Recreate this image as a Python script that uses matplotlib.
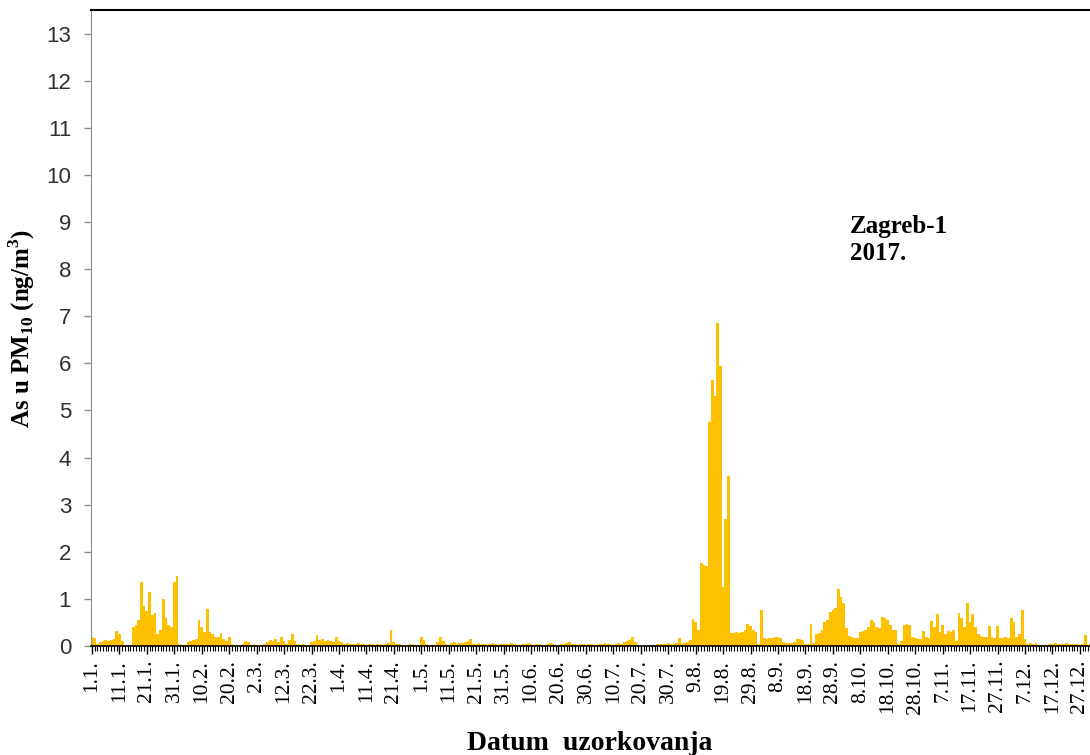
import matplotlib.pyplot as plt
import numpy as np

# dnevne vrijednosti As u PM10 (ng/m3), Zagreb-1, 2017. - po mjesecima
jan = [0.2, 0.18, 0.05, 0.08, 0.1, 0.12, 0.1, 0.12, 0.15, 0.32, 0.25, 0.1, 0.03, 0.02, 0.03,
       0.4, 0.45, 0.55, 1.35, 0.85, 0.75, 1.15, 0.65, 0.7, 0.25, 0.35, 1.0, 0.6, 0.45, 0.4, 1.35]
feb = [1.48, 0.05, 0.03, 0.02, 0.08, 0.1, 0.12, 0.15, 0.55, 0.4, 0.3, 0.78, 0.3, 0.25,
       0.2, 0.2, 0.28, 0.15, 0.1, 0.2, 0.05, 0.03, 0.02, 0.03, 0.05, 0.1, 0.08, 0.03]
mar = [0.05, 0.03, 0.02, 0.03, 0.05, 0.08, 0.12, 0.1, 0.15, 0.08, 0.2, 0.1, 0.05, 0.12, 0.25,
       0.1, 0.05, 0.03, 0.05, 0.02, 0.03, 0.08, 0.1, 0.23, 0.12, 0.15, 0.1, 0.12, 0.1, 0.08, 0.2]
apr = [0.1, 0.08, 0.05, 0.06, 0.05, 0.04, 0.05, 0.06, 0.05, 0.04, 0.03, 0.05, 0.04, 0.03, 0.05,
       0.04, 0.03, 0.05, 0.06, 0.34, 0.08, 0.05, 0.04, 0.03, 0.02, 0.03, 0.04, 0.05, 0.03, 0.02]
may = [0.2, 0.12, 0.05, 0.03, 0.02, 0.03, 0.08, 0.2, 0.1, 0.05, 0.03, 0.06, 0.08, 0.05, 0.07,
       0.06, 0.08, 0.1, 0.15, 0.05, 0.04, 0.06, 0.05, 0.04, 0.03, 0.05, 0.06, 0.04, 0.03, 0.04, 0.05]
jun = [0.05, 0.04, 0.06, 0.05, 0.03, 0.02, 0.04, 0.05, 0.06, 0.04, 0.03, 0.05, 0.04, 0.02, 0.03,
       0.05, 0.06, 0.04, 0.03, 0.02, 0.04, 0.05, 0.06, 0.08, 0.05, 0.04, 0.03, 0.05, 0.04, 0.03]
jul = [0.04, 0.05, 0.03, 0.02, 0.04, 0.05, 0.06, 0.05, 0.04, 0.03, 0.05, 0.06, 0.05, 0.08, 0.1,
       0.12, 0.2, 0.08, 0.03, 0.01, 0.0, 0.0, 0.01, 0.02, 0.03, 0.04, 0.05, 0.04, 0.05, 0.06, 0.05]
aug = [0.05, 0.06, 0.16, 0.05, 0.06, 0.08, 0.12, 0.57, 0.5, 0.35, 1.77, 1.72, 1.7, 4.75, 5.64,
       5.3, 6.85, 5.95, 1.25, 2.7, 3.6, 0.28, 0.27, 0.29, 0.28, 0.3, 0.35, 0.46, 0.42, 0.35, 0.3]
sep = [0.05, 0.76, 0.16, 0.15, 0.17, 0.16, 0.19, 0.2, 0.18, 0.08, 0.07, 0.06, 0.07, 0.08, 0.14,
       0.15, 0.13, 0.05, 0.04, 0.46, 0.07, 0.25, 0.27, 0.35, 0.5, 0.56, 0.72, 0.76, 0.8, 1.2]
oct_ = [1.03, 0.92, 0.39, 0.22, 0.2, 0.18, 0.17, 0.3, 0.32, 0.33, 0.4, 0.55, 0.52, 0.4, 0.38,
        0.62, 0.6, 0.55, 0.45, 0.35, 0.33, 0.05, 0.1, 0.45, 0.47, 0.45, 0.2, 0.18, 0.15, 0.14, 0.32]
nov = [0.2, 0.18, 0.53, 0.4, 0.67, 0.3, 0.45, 0.25, 0.32, 0.3, 0.33, 0.1, 0.69, 0.6, 0.4,
       0.92, 0.5, 0.67, 0.4, 0.25, 0.22, 0.2, 0.2, 0.43, 0.2, 0.18, 0.43, 0.18, 0.17, 0.19]
dec = [0.18, 0.59, 0.5, 0.2, 0.25, 0.76, 0.15, 0.05, 0.06, 0.05, 0.06, 0.02, 0.02, 0.01, 0.03,
       0.05, 0.04, 0.06, 0.05, 0.04, 0.05, 0.06, 0.04, 0.05, 0.04, 0.05, 0.03, 0.05, 0.24, 0.03, 0.04]

tick_labels = ['1.1.', '11.1.', '21.1.', '31.1.', '10.2.', '20.2.', '2.3.', '12.3.', '22.3.',
               '1.4.', '11.4.', '21.4.', '1.5.', '11.5.', '21.5.', '31.5.', '10.6.', '20.6.',
               '30.6.', '10.7.', '20.7.', '30.7.', '9.8.', '19.8.', '29.8.', '8.9.', '18.9.',
               '28.9.', '8.10.', '18.10.', '28.10.', '7.11.', '17.11.', '27.11.', '7.12.',
               '17.12.', '27.12.']

values = np.array(jan + feb + mar + apr + may + jun + jul + aug + sep + oct_ + nov + dec)
days = np.arange(1, len(values) + 1)

serif = 'Liberation Serif'
sans = 'Liberation Sans'

plt.rcParams['mathtext.fontset'] = 'custom'
plt.rcParams['mathtext.rm'] = serif
plt.rcParams['mathtext.bf'] = serif + ':bold'

fig = plt.figure(figsize=(10.9, 7.55), dpi=100)
ax = fig.add_axes([90.6 / 1090, 109 / 755, 1001.6 / 1090, 636 / 755])

ax.bar(days, values, width=1.0, color='#FFC000', linewidth=0)

ax.set_xlim(0.5, 365.5)
ax.set_ylim(0, 13.5)

# x os: oznaka svakih 10 dana, mala crtica za svaki dan
ax.set_xticks(days[::10])
ax.set_xticklabels(tick_labels, rotation=90, fontsize=15.5, family=serif)
ax.set_xticks(days, minor=True)
ax.tick_params(axis='x', which='major', direction='out', length=6, width=1, color='black', pad=4)
ax.tick_params(axis='x', which='minor', direction='out', length=3.5, width=0.8, color='black')

ax.set_yticks(np.arange(0, 14, 1))
ax.tick_params(axis='y', direction='out', length=5, width=1, color='#8c8c8c', pad=9)
for lab in ax.get_yticklabels():
    lab.set_fontsize(16)
    lab.set_family(sans)
    lab.set_color('#303030')

ax.spines['right'].set_visible(False)
ax.spines['left'].set_color('#8c8c8c')
ax.spines['top'].set_color('black')
ax.spines['top'].set_linewidth(1.5)
ax.spines['bottom'].set_color('black')
ax.spines['bottom'].set_linewidth(1.2)

ax.text(0.758, 0.677, 'Zagreb-1\n2017.', transform=ax.transAxes, ha='left', va='top',
        fontsize=18, fontweight='bold', family=serif, linespacing=1.2)

fig.text(22 / 1090, 0.565, r'As u PM$_{\mathbf{10}}$ (ng/m$^{\mathbf{3}}$)', rotation=90,
         ha='center', va='center', fontsize=18, fontweight='bold', family=serif)
fig.text(590 / 1090, 11 / 755, 'Datum  uzorkovanja', ha='center', va='center',
         fontsize=20, fontweight='bold', family=serif)

plt.savefig('out.png', dpi=100)
